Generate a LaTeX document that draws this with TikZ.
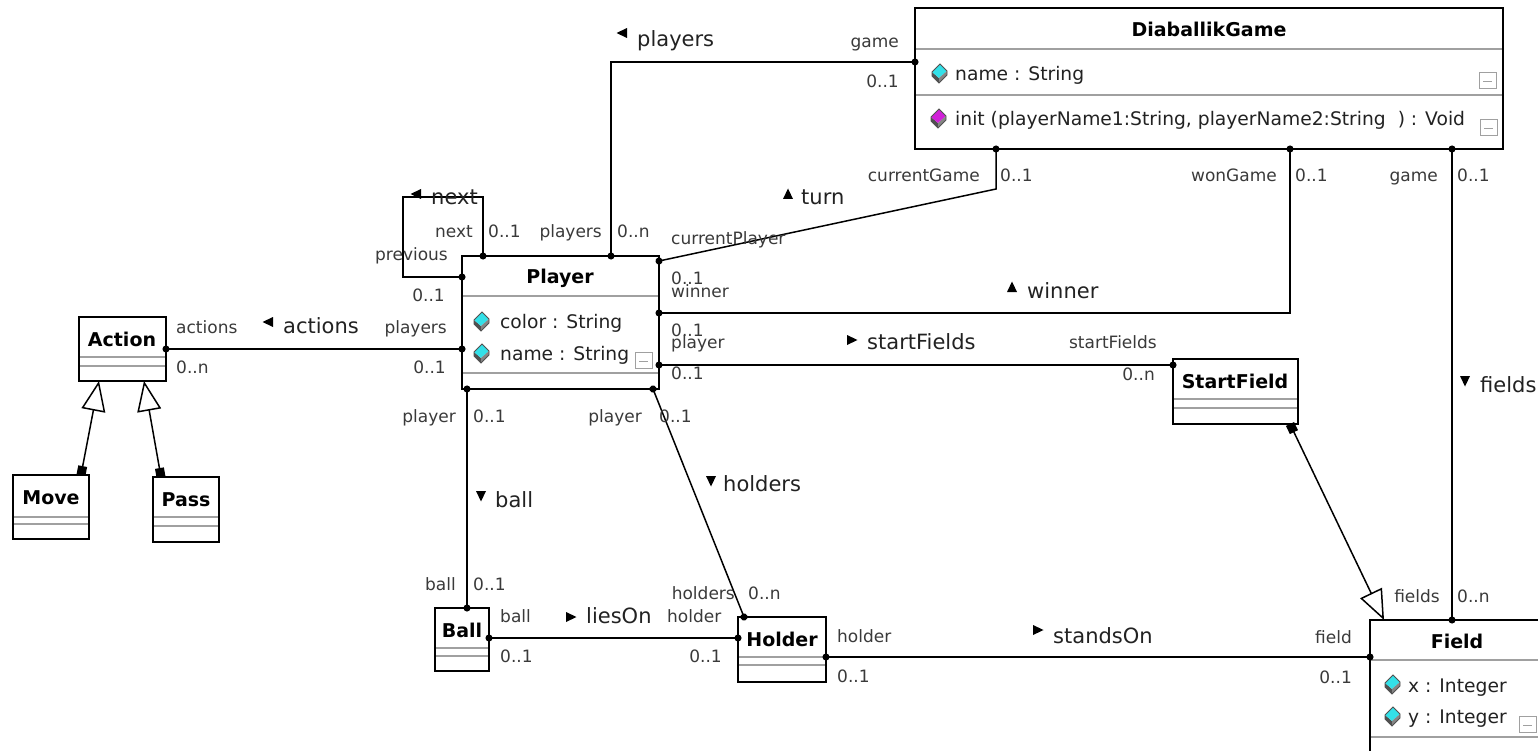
\documentclass[tikz,border=0pt]{standalone}
\usepackage{fontspec}
\setmainfont{DejaVu Sans}
\usetikzlibrary{arrows.meta}
\definecolor{rolegray}{HTML}{3A3A3A}
\definecolor{namegray}{HTML}{222222}
\definecolor{sepgray}{HTML}{A0A0A0}
\definecolor{cubecyan}{HTML}{33E0E8}
\definecolor{cubemag}{HTML}{D020D8}
\definecolor{cubedark}{HTML}{505050}
\tikzset{
  cls/.style={draw=black, line width=2pt, fill=white, inner sep=0pt, outer sep=0pt, anchor=north west},
  sepline/.style={draw=sepgray, line width=1.3pt},
  assoc/.style={draw=black, line width=1.5pt, {Circle[length=7pt]}-{Circle[length=7pt]}, shorten <=-3.5pt, shorten >=-3.5pt},
  gen/.style={draw=black, line width=1.5pt, {Square[length=9pt,width=9pt]}-{Triangle[length=30pt,width=24pt,fill=white]}},
  role/.style={font=\fontsize{17}{20}\selectfont, text=rolegray, inner sep=0pt},
  aname/.style={font=\fontsize{21}{24}\selectfont, text=namegray, inner sep=0pt, anchor=base west},
  attr/.style={font=\fontsize{18.7}{22}\selectfont, text=namegray, inner sep=0pt, anchor=base west},
  ctitle/.style={font=\fontsize{19}{22}\selectfont\bfseries, text=black, inner sep=0pt, anchor=base},
  rl/.style={role, anchor=base west},
  rr/.style={role, anchor=base east},
  tri/.pic={\fill[black] (-5,-5) -- (5.5,0) -- (-5,5) -- cycle;},
  attricon/.pic={
    \fill[cubedark] (-7,-1) -- (0,5) -- (0,10) -- (-7,3) -- cycle;
    \fill[cubecyan] (1,-9) -- (8,-2) -- (0,5) -- (-7,-1) -- cycle;
    \fill[cubedark!70] (8,-2) -- (8,2) -- (0,10) -- (0,5) -- cycle;
    \draw[cubedark, line width=0.8pt] (1,-9) -- (8,-2) -- (8,2) -- (0,10) -- (-7,3) -- (-7,-1) -- cycle;
  },
  opicon/.pic={
    \fill[cubedark] (-7,-1) -- (0,5) -- (0,10) -- (-7,3) -- cycle;
    \fill[cubemag] (1,-9) -- (8,-2) -- (0,5) -- (-7,-1) -- cycle;
    \fill[cubedark!70] (8,-2) -- (8,2) -- (0,10) -- (0,5) -- cycle;
    \draw[cubedark, line width=0.8pt] (1,-9) -- (8,-2) -- (8,2) -- (0,10) -- (-7,3) -- (-7,-1) -- cycle;
  },
  minusicon/.pic={
    \draw[sepgray, line width=1pt] (0,0) rectangle (17,16);
    \draw[sepgray, line width=1pt] (4,9) -- (13,9);
  }
}
\begin{document}
\begin{tikzpicture}[x=1pt, y=-1pt]
\clip (0,0) rectangle (1538,751);
\fill[white] (0,0) rectangle (1538,751);

% ---------------- class boxes ----------------
\node[cls, minimum width=588pt, minimum height=141pt] (dg) at (915,8) {};
\node[cls, minimum width=197pt, minimum height=133pt] (pl) at (462,256) {};
\node[cls, minimum width=87pt, minimum height=64pt] (ac) at (79,317) {};
\node[cls, minimum width=76pt, minimum height=64pt] (mv) at (13,475) {};
\node[cls, minimum width=66pt, minimum height=65pt] (pa) at (153,477) {};
\node[cls, minimum width=125pt, minimum height=65pt] (sf) at (1173,359) {};
\node[cls, minimum width=54pt, minimum height=63pt] (ba) at (435,608) {};
\node[cls, minimum width=88pt, minimum height=65pt] (ho) at (738,617) {};
\node[cls, minimum width=200pt, minimum height=160pt] (fi) at (1370,620) {};

% compartment separators
\draw[sepline] (916,49) -- (1502,49);
\draw[sepline] (916,95) -- (1502,95);
\draw[sepline] (463,296) -- (658,296);
\draw[sepline] (463,373) -- (658,373);
\draw[sepline] (80,357) -- (165,357);
\draw[sepline] (80,366) -- (165,366);
\draw[sepline] (14,517) -- (88,517);
\draw[sepline] (14,524) -- (88,524);
\draw[sepline] (154,517) -- (218,517);
\draw[sepline] (154,526) -- (218,526);
\draw[sepline] (1174,399) -- (1297,399);
\draw[sepline] (1174,408) -- (1297,408);
\draw[sepline] (436,648) -- (488,648);
\draw[sepline] (436,656) -- (488,656);
\draw[sepline] (739,657) -- (825,657);
\draw[sepline] (739,665) -- (825,665);
\draw[sepline] (1371,660) -- (1538,660);
\draw[sepline] (1371,737) -- (1538,737);

% titles
\node[ctitle] (tdg) at (1209,37) {DiaballikGame};
\node[ctitle] (tpl) at (560,283) {Player};
\node[ctitle] (tac) at (122,346) {Action};
\node[ctitle] (tmv) at (51,504) {Move};
\node[ctitle] (tpa) at (186,506) {Pass};
\node[ctitle] (tsf) at (1235,388) {StartField};
\node[ctitle] (tba) at (462,637) {Ball};
\node[ctitle] (tho) at (782,646) {Holder};
\node[ctitle] (tfi) at (1457,648) {Field};

% attributes and operations
\pic at (939,73) {attricon};
\node[attr] (adg1) at (955,81) {name : String};
\pic at (1479,73) {minusicon};
\pic at (938,118) {opicon};
\node[attr] (odg1) at (955,126) {init (playerName1:String, playerName2:String~~) : Void};
\pic at (1480,120) {minusicon};

\pic at (481,321) {attricon};
\node[attr] (apl1) at (500,328) {color : String};
\pic at (481,353) {attricon};
\node[attr] (apl2) at (500,360) {name : String};
\pic at (635,352) {minusicon};

\pic at (1392,684) {attricon};
\node[attr] (afi1) at (1408,692) {x : Integer};
\pic at (1392,716) {attricon};
\node[attr] (afi2) at (1408,723) {y : Integer};
\pic at (1519,716) {minusicon};

% ---------------- connectors ----------------
% next / previous (self association)
\draw[assoc] (483,0 |- pl.north) -- (483,197) -- (403,197) -- (403,277) -- (pl.west |- 0,277);
% players / game
\draw[assoc] (611,0 |- pl.north) |- (dg.west |- 0,62);
% turn
\draw[assoc] (pl.east |- 0,261) -- (996,189) -- (996,0 |- dg.south);
% winner
\draw[assoc] (pl.east |- 0,313) -| (1290,0 |- dg.south);
% startFields
\draw[assoc] (pl.east |- 0,365) -- (sf.west |- 0,365);
% actions
\draw[assoc] (ac.east |- 0,349) -- (pl.west |- 0,349);
% ball
\draw[assoc] (467,0 |- pl.south) -- (467,0 |- ba.north);
% holders
\draw[assoc] (653,0 |- pl.south) -- (744,0 |- ho.north);
% liesOn
\draw[assoc] (ba.east |- 0,638) -- (ho.west |- 0,638);
% standsOn
\draw[assoc] (ho.east |- 0,657) -- (fi.west |- 0,657);
% fields
\draw[assoc] (1452,0 |- dg.south) -- (1452,0 |- fi.north);
% generalizations
\draw[gen] (1290,0 |- sf.south) -- (1384,0 |- fi.north);
\draw[gen] (81,0 |- mv.north) -- (99,0 |- ac.south);
\draw[gen] (161,0 |- pa.north) -- (144,0 |- ac.south);

% ---------------- association names ----------------
\pic[rotate=180] at (622,33) {tri};
\node[aname] (nplayers) at (637,47) {players};
\pic[rotate=180] at (416,194) {tri};
\node[aname] (nnext) at (431,205) {next};
\pic[rotate=90] at (788,194) {tri};
\node[aname] (nturn) at (801,205) {turn};
\pic[rotate=90] at (1012,287) {tri};
\node[aname] (nwinner) at (1027,298) {winner};
\pic at (852,340) {tri};
\node[aname] (nstart) at (867,349) {startFields};
\pic[rotate=180] at (268,322) {tri};
\node[aname] (nactions) at (283,333) {actions};
\pic[rotate=-90] at (481,496) {tri};
\node[aname] (nball) at (495,507) {ball};
\pic[rotate=-90] at (711,481) {tri};
\node[aname] (nholders) at (723,491) {holders};
\pic at (571,617) {tri};
\node[aname] (nlies) at (586,623) {liesOn};
\pic at (1038,630) {tri};
\node[aname] (nstands) at (1053,643) {standsOn};
\pic[rotate=-90] at (1465,381) {tri};
\node[aname] (nfields) at (1480,392) {fields};

% ---------------- role names and multiplicities ----------------
\node[rr] (r1) at (899,48) {game};
\node[rr] (r2) at (899,88) {0..1};
\node[rr] (r3) at (602,237) {players};
\node[rl] (r4) at (617,237) {0..n};
\node[rr] (r5) at (473,237) {next};
\node[rl] (r6) at (488,237) {0..1};
\node[rr] (r7) at (448,261) {previous};
\node[rr] (r8) at (445,301) {0..1};
\node[rr] (r9) at (447,333) {players};
\node[rr] (r10) at (446,373) {0..1};
\node[rl] (r11) at (176,333) {actions};
\node[rl] (r12) at (176,373) {0..n};
\node[rl] (r13) at (671,245) {currentPlayer};
\node[rl] (r14) at (671,284) {0..1};
\node[rl] (r15) at (671,297) {winner};
\node[rl] (r16) at (671,336) {0..1};
\node[rl] (r17) at (671,348) {player};
\node[rl] (r18) at (671,379) {0..1};
\node[rr] (r19) at (980,182) {currentGame};
\node[rl] (r20) at (1000,182) {0..1};
\node[rr] (r21) at (1277,182) {wonGame};
\node[rl] (r22) at (1295,182) {0..1};
\node[rr] (r23) at (1438,182) {game};
\node[rl] (r24) at (1457,182) {0..1};
\node[rr] (r25) at (1157,348) {startFields};
\node[rr] (r26) at (1155,380) {0..n};
\node[rr] (r27) at (1440,602) {fields};
\node[rl] (r28) at (1457,602) {0..n};
\node[rr] (r29) at (1352,643) {field};
\node[rr] (r30) at (1352,683) {0..1};
\node[rl] (r31) at (837,642) {holder};
\node[rl] (r32) at (837,682) {0..1};
\node[rr] (r33) at (456,422) {player};
\node[rl] (r34) at (473,422) {0..1};
\node[rr] (r35) at (642,422) {player};
\node[rl] (r36) at (659,422) {0..1};
\node[rr] (r37) at (456,590) {ball};
\node[rl] (r38) at (473,590) {0..1};
\node[rr] (r39) at (735,599) {holders};
\node[rl] (r40) at (748,599) {0..n};
\node[rl] (r41) at (500,622) {ball};
\node[rl] (r42) at (667,622) {holder};
\node[rl] (r43) at (500,662) {0..1};
\node[rr] (r44) at (722,662) {0..1};
\end{tikzpicture}
\end{document}
